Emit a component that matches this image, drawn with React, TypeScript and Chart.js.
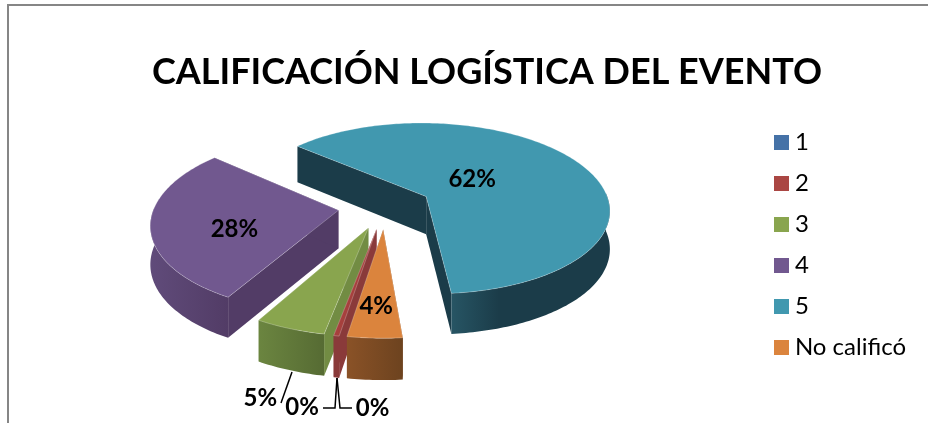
import React, { useEffect, useRef } from "react";
import { Chart, registerables } from "chart.js";

Chart.register(...registerables);

const TITLE = "CALIFICACIÓN LOGÍSTICA DEL EVENTO";
const categories = ["1", "2", "3", "4", "5", "No calificó"];
const values = [0, 0.4, 5.2, 28.2, 62.2, 4];
const topColors = ["#4572A7", "#A6403D", "#89A54E", "#71588F", "#4198AF", "#DB843D"];
const legendColors = ["#4572A7", "#AA4643", "#89A54E", "#71588F", "#4198AF", "#DB843D"];
const radialWallColors = ["#2c4a6e", "#8a3a3a", "#728c43", "#523c66", "#1b3c49", "#7a4a24"];
const arcWallLeft = ["#2c4a6e", "#8a3a3a", "#6b8540", "#604b7a", "#275564", "#8a5227"];
const arcWallRight = ["#2c4a6e", "#8a3a3a", "#566b33", "#523c66", "#1b3c49", "#6d431f"];

// Percentage label placement relative to each slice's projected tip, and leader lines.
const labelOffsets = [
  { dx: -75, dy: 178 },
  { dx: -4, dy: 179 },
  { dx: -108, dy: 170 },
  { dx: -104, dy: 19 },
  { dx: 46, dy: -17 },
  { dx: -7, dy: 77 },
];
const leaders: number[][][] = [
  [[337, 378], [335, 408], [323, 408]],
  [[337, 378], [340, 408], [352, 408]],
  [[292, 372], [281, 403]],
];

// Perspective model of the tilted pie.
const VIEW = { cx: 385, cy: 206.5, tilt: 86.5, persp: 0.14, depth: 38 };
const LEGEND_SHIFT_Y = 8;

function project(el: any, wx: number, wy: number, drop: number) {
  const R = el.outerRadius;
  const U = (wx - el.x) / R;
  const V = (wy - el.y) / R;
  const s = 1 / (1 - VIEW.persp * V);
  return {
    x: VIEW.cx + U * R * s,
    y: VIEW.cy + VIEW.tilt * V * s + VIEW.depth * drop * Math.sqrt(s),
  };
}

function sliceGeometry(el: any) {
  const off = el.options.offset || 0;
  const mid = (el.startAngle + el.endAngle) / 2;
  const tipX = el.x + Math.cos(mid) * off;
  const tipY = el.y + Math.sin(mid) * off;
  const at = (a: number, drop: number) =>
    project(el, tipX + Math.cos(a) * el.outerRadius, tipY + Math.sin(a) * el.outerRadius, drop);
  const tip = (drop: number) => project(el, tipX, tipY, drop);
  return { at, tip };
}

function tracePath(ctx: CanvasRenderingContext2D, pts: { x: number; y: number }[]) {
  ctx.beginPath();
  pts.forEach((p, i) => (i ? ctx.lineTo(p.x, p.y) : ctx.moveTo(p.x, p.y)));
  ctx.closePath();
}

const pie3dPlugin = {
  id: "pie3d",
  afterLayout(chart: any) {
    chart.legend.top += LEGEND_SHIFT_Y;
    chart.legend.bottom += LEGEND_SHIFT_Y;
  },
  beforeDraw(chart: any) {
    const ctx: CanvasRenderingContext2D = chart.ctx;
    ctx.save();
    ctx.strokeStyle = "#868686";
    ctx.lineWidth = 2;
    ctx.beginPath();
    ctx.moveTo(8, chart.height);
    ctx.lineTo(8, 5);
    ctx.lineTo(chart.width, 5);
    ctx.stroke();
    ctx.restore();
  },
  beforeDatasetsDraw(chart: any) {
    const ctx: CanvasRenderingContext2D = chart.ctx;
    const arcs: any[] = chart.getDatasetMeta(0).data;
    const order = arcs
      .map((el, i) => ({ el, i, depth: sliceGeometry(el).tip(0).y }))
      .filter((o) => o.el.endAngle - o.el.startAngle > 1e-6)
      .sort((a, b) => a.depth - b.depth);

    ctx.save();
    for (const { el, i } of order) {
      const g = sliceGeometry(el);
      const steps = Math.max(2, Math.ceil(((el.endAngle - el.startAngle) * 180) / Math.PI));
      const angles: number[] = [];
      for (let k = 0; k <= steps; k++) angles.push(el.startAngle + ((el.endAngle - el.startAngle) * k) / steps);
      const topPts = angles.map((a) => g.at(a, 0));

      // radial walls
      ctx.fillStyle = radialWallColors[i];
      for (const a of [el.startAngle, el.endAngle]) {
        tracePath(ctx, [g.tip(0), g.at(a, 0), g.at(a, 1), g.tip(1)]);
        ctx.fill();
      }

      // curved wall: only the part that faces the viewer
      const frontAngles = angles.filter((a) => Math.sin(a) > -0.05);
      if (frontAngles.length > 1) {
        const frontTop = frontAngles.map((a) => g.at(a, 0));
        const frontBot = frontAngles.map((a) => g.at(a, 1));
        const xs = frontTop.map((p) => p.x);
        const x0 = Math.min(...xs);
        const x1 = Math.max(...xs);
        const grad = ctx.createLinearGradient(x0, 0, Math.max(x1, x0 + 1), 0);
        grad.addColorStop(0, arcWallLeft[i]);
        grad.addColorStop(i === 4 ? 0.3 : 1, arcWallRight[i]);
        grad.addColorStop(1, arcWallRight[i]);
        ctx.fillStyle = grad;
        tracePath(ctx, [...frontTop, ...frontBot.reverse()]);
        ctx.fill();
      }

      // top face
      tracePath(ctx, [g.tip(0), ...topPts]);
      ctx.fillStyle = topColors[i];
      ctx.fill();
      ctx.strokeStyle = "rgba(255,255,255,0.25)";
      ctx.lineWidth = 1;
      ctx.stroke();
    }
    ctx.restore();
    return false;
  },
  afterDraw(chart: any) {
    const ctx: CanvasRenderingContext2D = chart.ctx;
    const arcs: any[] = chart.getDatasetMeta(0).data;
    const total = values.reduce((a, b) => a + b, 0);
    ctx.save();
    ctx.strokeStyle = "#000";
    ctx.lineWidth = 1.5;
    for (const line of leaders) {
      ctx.beginPath();
      line.forEach(([x, y], i) => (i ? ctx.lineTo(x, y) : ctx.moveTo(x, y)));
      ctx.stroke();
    }
    ctx.fillStyle = "#000";
    ctx.font = "bold 24px Lato";
    ctx.textAlign = "center";
    ctx.textBaseline = "middle";
    arcs.forEach((el, i) => {
      const tip = sliceGeometry(el).tip(0);
      ctx.fillText(
        `${Math.round((values[i] / total) * 100)}%`,
        tip.x + labelOffsets[i].dx,
        tip.y + labelOffsets[i].dy
      );
    });
    ctx.restore();
  },
};

function swatch(color: string) {
  const c = document.createElement("canvas");
  c.width = 15;
  c.height = 15;
  const x = c.getContext("2d")!;
  x.fillStyle = color;
  x.fillRect(0, 0, 15, 15);
  return c;
}

export default function App() {
  const ref = useRef<HTMLCanvasElement>(null);
  useEffect(() => {
    const chart = new Chart(ref.current!, {
      type: "pie",
      data: {
        labels: categories,
        datasets: [{ data: values, backgroundColor: legendColors, offset: 47, borderWidth: 0 }],
      },
      options: {
        responsive: false,
        animation: false,
        rotation: 189.3,
        radius: 184,
        layout: { padding: { left: 58, right: 12, top: 51, bottom: 0 } },
        plugins: {
          tooltip: { enabled: false },
          title: {
            display: true,
            text: TITLE,
            color: "#000",
            font: { family: "Lato", size: 36, weight: "bold" },
            padding: { top: 0, bottom: 50 },
          },
          legend: {
            position: "right",
            labels: {
              boxWidth: 3,
              boxHeight: 15,
              padding: 17,
              usePointStyle: true,
              color: "#000",
              font: { family: "Lato", size: 24 },
              generateLabels: () =>
                categories.map((text, i) => ({
                  text,
                  fillStyle: legendColors[i],
                  strokeStyle: legendColors[i],
                  lineWidth: 0,
                  pointStyle: swatch(legendColors[i]),
                  index: i,
                })),
            },
          },
        },
      } as any,
      plugins: [pie3dPlugin as any],
    });
    return () => chart.destroy();
  }, []);
  return (
    <canvas
      ref={ref}
      width={928}
      height={423}
      style={{ position: "fixed", left: 0, top: 0, display: "block" }}
    />
  );
}
